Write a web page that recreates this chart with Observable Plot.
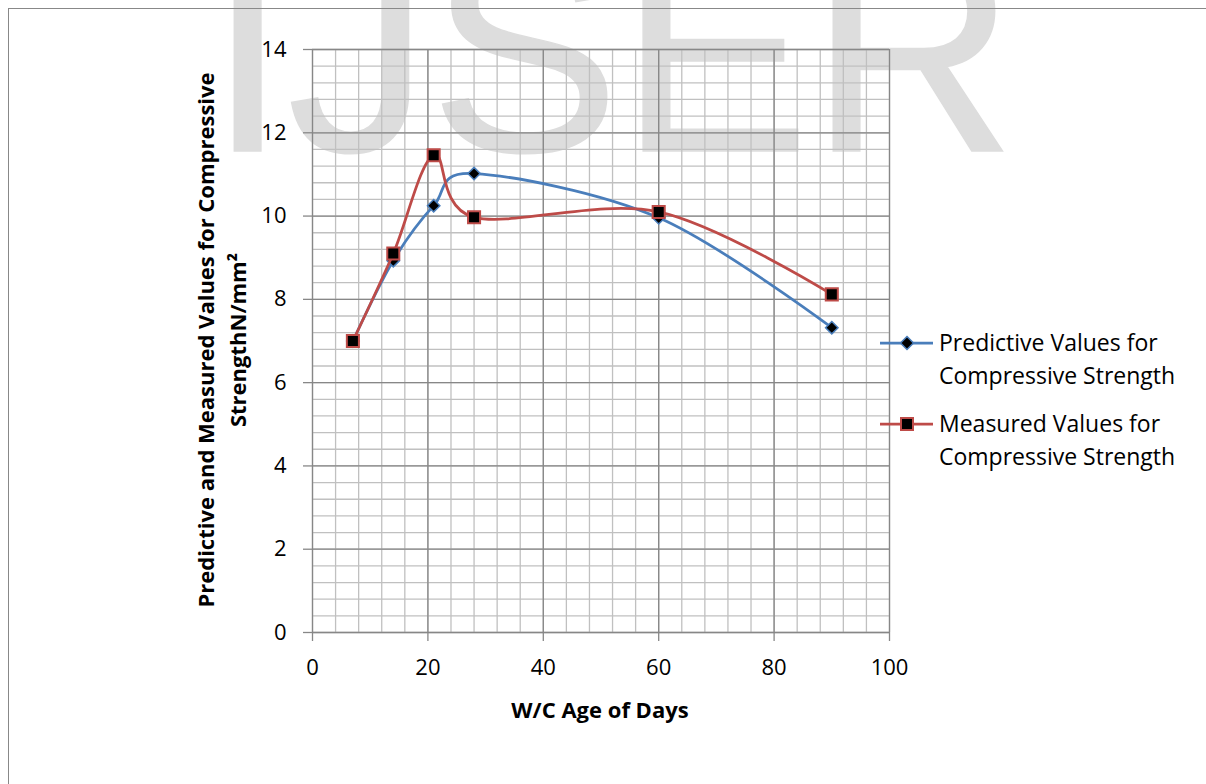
<!DOCTYPE html>
<html>
<head>
<meta charset="utf-8">
<script src="https://cdn.jsdelivr.net/npm/d3@7"></script>
<script src="https://cdn.jsdelivr.net/npm/@observablehq/plot@0.6"></script>
<style>
  html, body { margin: 0; padding: 0; background: #fff; overflow: hidden; }
  #page { position: relative; width: 1206px; height: 784px; overflow: hidden; font-family: "Open Sans", Lato, sans-serif; }
  #frame { position: absolute; left: 8px; top: 8px; width: 1400px; height: 1000px; border: 1.5px solid #888; box-sizing: border-box; }
  #wm { position: absolute; left: 208px; top: 52px; font-family: "Liberation Sans", Arial, sans-serif; font-size: 285px; color: #dddddd; -webkit-text-stroke: 1.5px #dddddd; line-height: 0; white-space: nowrap; }
  #chart { position: absolute; left: 0; top: 0; }
  .xt { position: absolute; left: 600px; top: 709px; transform: translate(-50%, -50%); font-weight: bold; font-size: 22px; white-space: nowrap; }
  .yt { position: absolute; left: 221px; top: 340px; transform: translate(-50%, -50%) rotate(-90deg); font-weight: bold; font-size: 22px; white-space: nowrap; text-align: center; line-height: 32px; }
  .leg { position: absolute; left: 880px; font-size: 23px; }
  .leg svg { position: absolute; left: 0; }
  .leg .t { position: absolute; left: 59px; line-height: 33px; white-space: nowrap; }
</style>
</head>
<body>
<div id="page">
  <div id="wm">IJSER</div>
  <div id="frame"></div>
  <div id="chart"></div>
  <div class="yt">Predictive and Measured Values for Compressive<br>StrengthN/mm²</div>
  <div class="xt">W/C Age of Days</div>
  <div class="leg" style="top:343px">
    <svg width="56" height="20" style="top:-10px"><line x1="0" y1="10" x2="53" y2="10" stroke="#4a7ebb" stroke-width="2.75"/><path d="M27,3.5 L33.5,10 L27,16.5 L20.5,10 Z" fill="#000" stroke="#4a7ebb" stroke-width="1.5"/></svg>
    <div class="t" style="top:-17.5px">Predictive Values for<br>Compressive Strength</div>
  </div>
  <div class="leg" style="top:424px">
    <svg width="56" height="20" style="top:-10px"><line x1="0" y1="10" x2="53" y2="10" stroke="#be4b48" stroke-width="2.75"/><rect x="21" y="4" width="12" height="12" fill="#000" stroke="#be4b48" stroke-width="2"/></svg>
    <div class="t" style="top:-17.5px">Measured Values for<br>Compressive Strength</div>
  </div>
</div>
<script>
const days = [7, 14, 21, 28, 60, 90];
const predictive = [7.0, 8.93, 10.25, 11.02, 9.96, 7.32];
const measured = [7.0, 9.1, 11.46, 9.97, 10.1, 8.12];
const xTicks = [0, 20, 40, 60, 80, 100];
const yTicks = [0, 2, 4, 6, 8, 10, 12, 14];

const predData = days.map((d, i) => ({day: d, value: predictive[i]}));
const measData = days.map((d, i) => ({day: d, value: measured[i]}));
const minorX = d3.range(0, 100.001, 4);
const minorY = d3.range(0, 14.001, 0.4);

const blue = "#4a7ebb", red = "#be4b48";
const chart = Plot.plot({
  width: 1206,
  height: 784,
  marginLeft: 312,
  marginRight: 317,
  marginTop: 49,
  marginBottom: 152,
  x: {domain: [0, 100]},
  y: {domain: [0, 14]},
  style: {background: "transparent", fontFamily: "'Open Sans', Lato, sans-serif", fontSize: "22px", color: "#000", overflow: "visible"},
  marks: [
    Plot.ruleX(minorX, {stroke: "#c0c0c0", strokeWidth: 1.3}),
    Plot.ruleY(minorY, {stroke: "#c0c0c0", strokeWidth: 1.3}),
    Plot.ruleX(xTicks, {stroke: "#878787", strokeWidth: 1.3}),
    Plot.ruleY(yTicks, {stroke: "#878787", strokeWidth: 1.3}),
    Plot.axisX({ticks: xTicks, tickSize: 9, tickPadding: 18, label: null, stroke: "#878787", strokeWidth: 1.3, fill: "#000", fontSize: 22}),
    Plot.axisY({ticks: yTicks, tickSize: 9, tickPadding: 17, label: null, stroke: "#878787", strokeWidth: 1.3, fill: "#000", fontSize: 22}),
    Plot.line(predData, {x: "day", y: "value", curve: "cardinal", stroke: blue, strokeWidth: 2.75}),
    Plot.dot(predData, {x: "day", y: "value", symbol: "diamond2", r: 5.6, fill: "#000", stroke: blue, strokeWidth: 1.5}),
    Plot.line(measData, {x: "day", y: "value", curve: "cardinal", stroke: red, strokeWidth: 2.75}),
    Plot.dot(measData, {x: "day", y: "value", symbol: "square", r: 6.8, fill: "#000", stroke: red, strokeWidth: 2})
  ]
});
document.getElementById("chart").appendChild(chart);
</script>
</body>
</html>
